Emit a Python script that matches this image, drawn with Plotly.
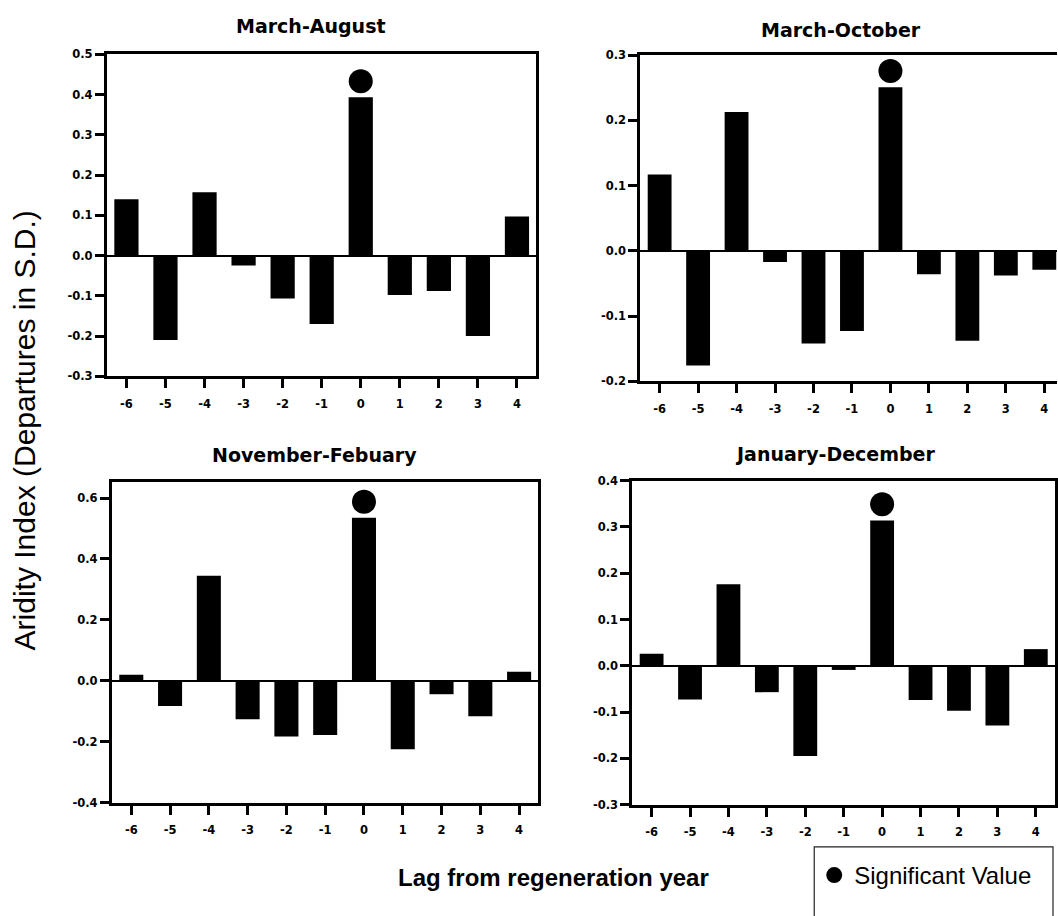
import numpy as np
import plotly.graph_objects as go

# Lag (years) relative to the regeneration year
lags = [-6, -5, -4, -3, -2, -1, 0, 1, 2, 3, 4]

# Mean aridity index departures (S.D. units) for each seasonal window
march_august = [0.140, -0.210, 0.157, -0.025, -0.107, -0.170, 0.393, -0.098, -0.088, -0.200, 0.097]
march_october = [0.117, -0.176, 0.213, -0.017, -0.142, -0.123, 0.251, -0.036, -0.138, -0.038, -0.029]
november_february = [0.020, -0.083, 0.345, -0.126, -0.183, -0.178, 0.535, -0.225, -0.044, -0.116, 0.030]
january_december = [0.026, -0.073, 0.176, -0.057, -0.195, -0.009, 0.314, -0.074, -0.097, -0.129, 0.036]

panel_titles = ["March-August", "March-October", "November-Febuary", "January-December"]
panel_series = [march_august, march_october, november_february, january_december]
significant_lags = [[0], [0], [0], [0]]

W, H = 1058, 916

# y-axis extent and tick step per panel
y_ranges = [[-0.3, 0.5], [-0.2, 0.3], [-0.4, 0.654], [-0.3, 0.4]]
y_steps = [0.1, 0.1, 0.2, 0.1]
x_ranges = [[-6.5, 4.5], [-6.5, 4.33], [-6.5, 4.5], [-6.5, 4.5]]

# plot boxes in pixels: left, right, top, bottom
boxes = [(107, 537, 48, 375), (641, 1058, 49, 380), (112, 539, 482, 808), (633, 1056, 481, 810)]
# panel title centres in pixels
title_pos = [(311, 19), (842, 23), (315, 455), (836, 454)]

TICK_FONT = dict(family="DejaVu Sans", size=11.5, color="black", weight="bold")

fig = go.Figure()

for i, (vals, sig) in enumerate(zip(panel_series, significant_lags)):
    n = "" if i == 0 else str(i + 1)
    xa, ya = "x" + n, "y" + n
    fig.add_trace(go.Bar(
        x=lags, y=vals, xaxis=xa, yaxis=ya,
        marker=dict(color="black", line=dict(width=0)),
        showlegend=False,
    ))
    lo, hi = y_ranges[i]
    lift = 0.05 * (hi - lo)
    sig_y = [vals[lags.index(l)] + lift for l in sig]
    fig.add_trace(go.Scatter(
        x=sig, y=sig_y, xaxis=xa, yaxis=ya, mode="markers",
        marker=dict(color="black", size=24, symbol="circle"),
        name="Significant Value", legendgroup="sig", showlegend=(i == 0),
    ))

    left, right, top, bottom = boxes[i]
    yt = [float(v) for v in np.round(np.arange(lo, hi + 1e-9, y_steps[i]), 2)]
    fig.layout["xaxis" + n] = dict(
        domain=[left / W, right / W], anchor=ya, range=x_ranges[i],
        tickmode="array", tickvals=lags, ticktext=[str(l) for l in lags],
        ticks="outside", ticklen=9, tickwidth=2.5, tickcolor="black",
        showline=True, linewidth=3, linecolor="black", mirror=True,
        showgrid=False, zeroline=False, tickfont=TICK_FONT,
        ticklabelstandoff=6, fixedrange=True,
    )
    fig.layout["yaxis" + n] = dict(
        domain=[1 - bottom / H, 1 - top / H], anchor=xa, range=[lo, hi],
        tickmode="array", tickvals=yt, ticktext=[f"{v:.1f}" for v in yt],
        ticks="outside", ticklen=9, tickwidth=2.5, tickcolor="black",
        showline=True, linewidth=3, linecolor="black", mirror=(i != 1),
        showgrid=False, zeroline=True, zerolinecolor="black", zerolinewidth=1.5,
        tickfont=TICK_FONT, fixedrange=True,
    )

annotations = []
for (tx, ty), t in zip(title_pos, panel_titles):
    annotations.append(dict(
        text=t, x=tx / W, y=1 - ty / H, xref="paper", yref="paper",
        xanchor="center", yanchor="middle", showarrow=False,
        font=dict(family="DejaVu Sans", size=19, color="black", weight="bold"),
    ))
annotations.append(dict(
    text="Aridity Index (Departures in S.D.)", textangle=-90,
    x=24 / W, y=1 - 430 / H, xref="paper", yref="paper",
    xanchor="center", yanchor="middle", showarrow=False,
    font=dict(family="Liberation Sans", size=30, color="black"),
))
annotations.append(dict(
    text="Lag from regeneration year",
    x=554 / W, y=1 - 884 / H, xref="paper", yref="paper",
    xanchor="center", yanchor="middle", showarrow=False,
    font=dict(family="Liberation Sans", size=24, color="black", weight="bold"),
))

fig.update_layout(
    width=W, height=H, autosize=False,
    margin=dict(l=0, r=0, t=0, b=0),
    paper_bgcolor="white", plot_bgcolor="white",
    bargap=0.38,
    annotations=annotations,
    showlegend=True,
    legend=dict(
        x=815 / W, y=1 - 882 / H, xanchor="left", yanchor="middle",
        bgcolor="rgba(0,0,0,0)", borderwidth=0,
        font=dict(family="Liberation Sans", size=24, color="black"),
    ),
    shapes=[dict(
        type="rect", xref="paper", yref="paper",
        x0=815 / W, x1=1054 / W, y0=-0.05, y1=1 - 853 / H,
        line=dict(color="#222", width=1.2), fillcolor="rgba(0,0,0,0)",
    )],
)

fig.write_html("out.html")
